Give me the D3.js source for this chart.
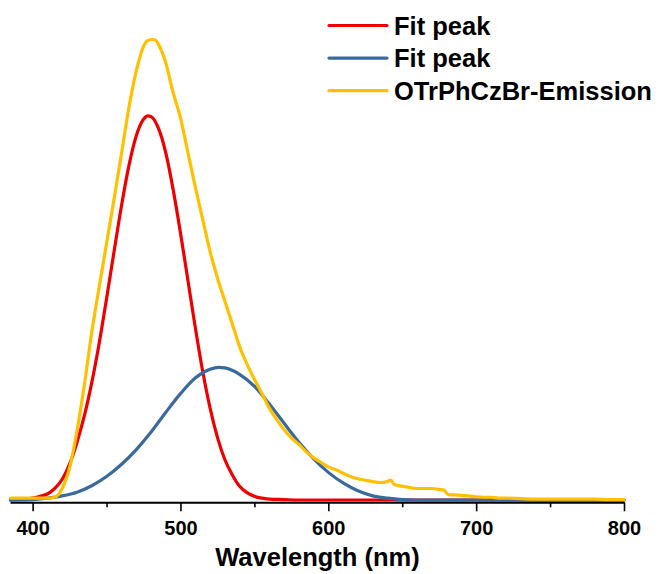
<!DOCTYPE html>
<html>
<head>
<meta charset="utf-8">
<script src="https://cdn.jsdelivr.net/npm/d3@7/dist/d3.min.js"></script>
<style>
  html, body { margin: 0; padding: 0; background: #fff; }
  svg { display: block; font-family: Arial, "Liberation Sans", sans-serif; }
</style>
</head>
<body>
<svg id="chart" width="659" height="574"></svg>
<script>
// ---- data ----
const redNm   = [385,390,395,400,405,410,415,420,425,430,435,440,445,450,455,460,465,470,475,478,480,485,490,495,500,505,510,515,520,525,530,535,540,545,550,555,560,570,580,600,650,700,750,800];
const redVal  = [0.000,0.001,0.002,0.004,0.008,0.013,0.025,0.045,0.078,0.125,0.183,0.255,0.340,0.437,0.538,0.637,0.724,0.790,0.827,0.834,0.833,0.808,0.755,0.675,0.580,0.478,0.375,0.280,0.200,0.136,0.088,0.055,0.030,0.016,0.008,0.004,0.002,0.001,0.000,0.000,0.000,0.000,0.000,0.000];

const blueNm  = [385,390,400,410,420,430,440,450,460,470,480,490,500,510,520,526,530,540,550,560,570,580,590,600,610,620,630,640,650,660,680,720,760,800];
const blueVal = [0.000,0.000,0.001,0.004,0.009,0.017,0.031,0.051,0.077,0.109,0.147,0.190,0.231,0.265,0.284,0.288,0.287,0.273,0.247,0.209,0.167,0.126,0.090,0.060,0.037,0.020,0.009,0.004,0.001,0.000,0.000,0.000,0.000,0.000];

const yelNm   = [385,390,395,400,405,410,415,420,425,430,435,440,445,450,455,460,465,470,475,478,481,483,485,490,495,500,505,510,515,520,525,530,535,540,545,550,555,560,565,570,575,580,585,590,595,600,605,610,615,620,625,630,635,640,642,645,650,655,660,665,670,675,678,681,685,690,695,700,705,710,715,720,730,740,750,760,770,780,790,800];
const yelVal  = [0.004,0.004,0.004,0.004,0.004,0.004,0.006,0.025,0.070,0.150,0.250,0.365,0.462,0.557,0.652,0.750,0.850,0.930,0.985,0.998,1.000,0.999,0.990,0.950,0.885,0.830,0.755,0.680,0.610,0.540,0.482,0.432,0.383,0.333,0.295,0.262,0.232,0.200,0.175,0.153,0.135,0.121,0.105,0.092,0.082,0.072,0.066,0.058,0.051,0.046,0.043,0.040,0.038,0.040,0.043,0.033,0.030,0.027,0.025,0.025,0.025,0.023,0.022,0.012,0.011,0.010,0.009,0.007,0.006,0.006,0.004,0.004,0.003,0.002,0.002,0.002,0.002,0.002,0.001,0.001];

const majorTicks = [400, 500, 600, 700, 800];
const minorTicks = [450, 550, 650, 750];
const seriesNames = ["Fit peak", "Fit peak", "OTrPhCzBr-Emission"];
const seriesColors = ["#EE0000", "#3A6A9C", "#FFC000"];
const xTitle = "Wavelength (nm)";

// ---- chart ----
const svg = d3.select("#chart");
const x = d3.scaleLinear().domain([384.7, 800]).range([10, 624]);
const y = d3.scaleLinear().domain([0, 1]).range([500, 39.5]);
const axisY = 502.3;

const series = [
  {nm: redNm, val: redVal},
  {nm: blueNm, val: blueVal},
  {nm: yelNm, val: yelVal}
];

const line = d3.line()
  .x(d => x(d[0]))
  .y(d => y(d[1]))
  .curve(d3.curveMonotoneX);

series.forEach((s, i) => {
  const pts = s.nm.map((n, k) => [n, s.val[k]]);
  svg.append("path")
    .datum(pts)
    .attr("d", line)
    .attr("fill", "none")
    .attr("stroke", seriesColors[i])
    .attr("stroke-width", 3.2)
    .attr("stroke-linejoin", "round")
    .attr("stroke-linecap", "round");
});

// axis
const gMinor = svg.append("g").attr("transform", `translate(0,${axisY})`)
  .call(d3.axisBottom(x).tickValues(minorTicks).tickSize(5).tickSizeOuter(0).tickFormat(""));
gMinor.select(".domain").remove();
gMinor.selectAll(".tick line").attr("stroke", "#000").attr("stroke-width", 1.6);

const gMajor = svg.append("g").attr("transform", `translate(0,${axisY})`)
  .call(d3.axisBottom(x).tickValues(majorTicks).tickSize(9).tickSizeOuter(0).tickPadding(10).tickFormat(d3.format("d")));
gMajor.select(".domain").attr("stroke", "#000").attr("stroke-width", 2);
gMajor.selectAll(".tick line").attr("stroke", "#000").attr("stroke-width", 1.6);
gMajor.selectAll(".tick text")
  .attr("fill", "#000")
  .style("font-size", "20px")
  .style("font-weight", "bold")
  .style("font-family", "Arial, 'Liberation Sans', sans-serif");

svg.append("text")
  .attr("x", 317.5)
  .attr("y", 566)
  .attr("text-anchor", "middle")
  .style("font-size", "25.5px")
  .style("font-weight", "bold")
  .attr("fill", "#000")
  .text(xTitle);

// legend
const legend = svg.append("g");
seriesNames.forEach((name, i) => {
  const cy = 25.5 + i * 32.6;
  legend.append("line")
    .attr("x1", 329).attr("x2", 387)
    .attr("y1", cy).attr("y2", cy)
    .attr("stroke", seriesColors[i])
    .attr("stroke-width", 3.2)
    .attr("stroke-linecap", "round");
  legend.append("text")
    .attr("x", 394)
    .attr("y", cy + 9)
    .style("font-size", "25.5px")
    .style("font-weight", "bold")
    .attr("fill", "#000")
    .text(name);
});
</script>
</body>
</html>
